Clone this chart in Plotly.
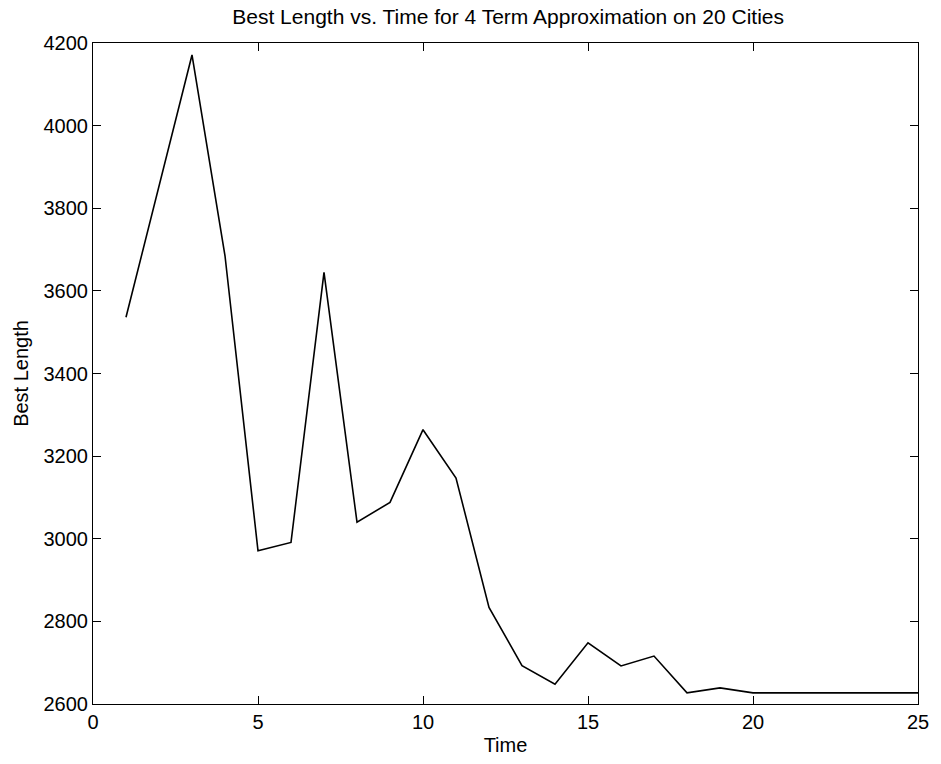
import plotly.graph_objects as go

# Best tour length found at each time step
time = [1, 2, 3, 4, 5, 6, 7, 8, 9, 10, 11, 12, 13, 14, 15, 16, 17, 18, 19, 20, 21, 22, 23, 24, 25]
best_length = [3536, 3850, 4171, 3685, 2971, 2991, 3645, 3040, 3088, 3264, 3147, 2834,
               2693, 2648, 2748, 2692, 2716, 2627, 2639, 2627, 2627, 2627, 2627, 2627, 2627]

x_ticks = [0, 5, 10, 15, 20, 25]
y_ticks = [2600, 2800, 3000, 3200, 3400, 3600, 3800, 4000, 4200]

font_family = "Liberation Sans, Arial, Helvetica, sans-serif"
label_font = dict(family=font_family, size=20, color="black")

fig = go.Figure()
fig.add_trace(go.Scatter(
    x=time, y=best_length, mode="lines",
    line=dict(color="black", width=1.6),
    showlegend=False,
))

axis_common = dict(
    showline=True, linecolor="black", linewidth=1.2, mirror="ticks",
    ticks="inside", ticklen=8, tickwidth=1.2, tickcolor="black",
    showgrid=False, zeroline=False,
    tickfont=label_font,
)

fig.update_layout(
    width=941, height=764,
    margin=dict(l=93, r=18, t=43, b=60),
    paper_bgcolor="white", plot_bgcolor="white",
    title=dict(
        text="Best Length vs. Time for 4 Term Approximation on 20 Cities",
        x=0.54, xanchor="center", y=0.978, yanchor="middle",
        font=dict(family=font_family, size=21, color="black"),
    ),
    xaxis=dict(
        range=[0, 25], tickvals=x_ticks,
        title=dict(text="Time", standoff=5, font=label_font),
        **axis_common,
    ),
    yaxis=dict(
        range=[2600, 4200], tickvals=y_ticks,
        title=dict(text="Best Length", standoff=9, font=label_font),
        **axis_common,
    ),
)

fig.write_html("out.html")
